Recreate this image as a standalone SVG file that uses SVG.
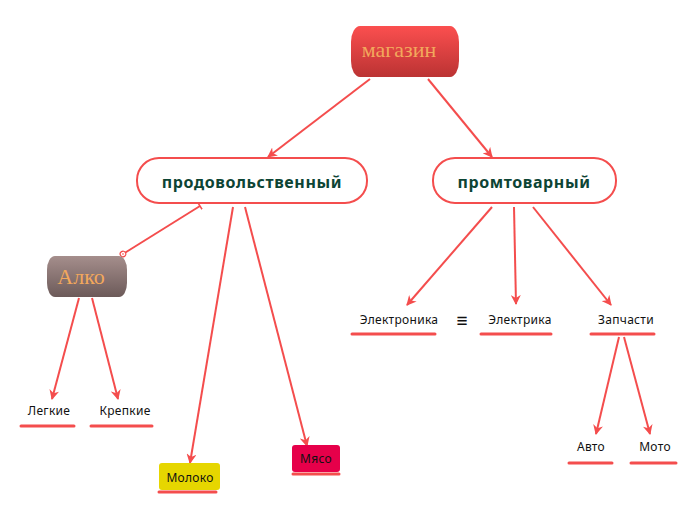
<svg xmlns="http://www.w3.org/2000/svg" width="696" height="520" viewBox="0 0 696 520">
<defs>
<linearGradient id="gRed" x1="0" y1="0" x2="0" y2="1"><stop offset="0" stop-color="#fb4f4f"/><stop offset="1" stop-color="#bb3333"/></linearGradient>
<linearGradient id="gBrown" x1="0" y1="0" x2="0" y2="1"><stop offset="0" stop-color="#a58e8c"/><stop offset="1" stop-color="#6c5a59"/></linearGradient>
<marker id="arr" viewBox="0 0 10 10" refX="9" refY="5" markerWidth="10" markerHeight="10" markerUnits="userSpaceOnUse" orient="auto"><path d="M0,0 L10,5 L0,10 L3,5 Z" fill="#f44d4d"/></marker>
<marker id="tee" viewBox="0 0 10 10" refX="5" refY="5" markerWidth="8" markerHeight="8" markerUnits="userSpaceOnUse" orient="auto"><path d="M5,0 L5,10" stroke="#f44d4d" stroke-width="2"/></marker>
<marker id="dot" viewBox="0 0 10 10" refX="5" refY="5" markerWidth="8" markerHeight="8" markerUnits="userSpaceOnUse" orient="auto"><circle cx="5" cy="5" r="3.5" fill="#fff" stroke="#f44d4d" stroke-width="1.6"/><circle cx="5" cy="5" r="1" fill="#f44d4d"/></marker>
</defs>
<style>
.c{stroke:#f44d4d;stroke-width:2;fill:none}
.a{marker-end:url(#arr)}
.pill{fill:#fff;stroke:#f44d4d;stroke-width:2}
.big{font-family:"Noto Sans","Open Sans",sans-serif;font-weight:bold;font-size:16px;letter-spacing:0.6px;fill:#0d4434;text-anchor:middle}
.ser{font-family:"Liberation Serif",serif;font-size:22px;fill:#f2a85c;text-anchor:middle}
.lbl{font-family:"Noto Sans","Open Sans",sans-serif;font-size:12px;letter-spacing:0.3px;fill:#111;text-anchor:middle}
.ul{stroke:#f44d4d;stroke-width:3;stroke-linecap:round}
</style>
<g id="connectors">
<line class="c a" x1="370" y1="79" x2="268" y2="157"/>
<line class="c a" x1="428" y1="79" x2="492" y2="157"/>
<line class="c" x1="200" y1="206" x2="123" y2="254" style="marker-start:url(#tee);marker-end:url(#dot)"/>
<line class="c a" x1="233" y1="207" x2="190" y2="463"/>
<line class="c a" x1="245" y1="207" x2="307" y2="446"/>
<line class="c a" x1="492" y1="207" x2="407" y2="305"/>
<line class="c a" x1="514" y1="207" x2="516" y2="304"/>
<line class="c a" x1="533" y1="207" x2="611" y2="305"/>
<line class="c a" x1="79" y1="298" x2="52" y2="399"/>
<line class="c a" x1="92" y1="298" x2="118" y2="399"/>
<line class="c a" x1="619" y1="337" x2="596" y2="434"/>
<line class="c a" x1="624" y1="337" x2="650" y2="434"/>
</g>
<g id="magazin">
<rect x="351" y="26" width="108" height="51" rx="9" ry="16" fill="url(#gRed)"/>
<text class="ser" x="399" y="57">магазин</text>
</g>
<g id="prodovolstvenny">
<rect class="pill" x="137" y="158" width="230" height="45" rx="22"/>
<text class="big" x="252" y="188">продовольственный</text>
</g>
<g id="promtovarny">
<rect class="pill" x="433" y="158" width="183" height="45" rx="22"/>
<text class="big" x="524" y="188">промтоварный</text>
</g>
<g id="alko">
<rect x="47" y="256" width="80" height="41" rx="8" ry="14" fill="url(#gBrown)"/>
<text class="ser" x="81" y="284">Алко</text>
</g>
<g id="elektronika">
<text class="lbl" x="399" y="324">Электроника</text>
<line class="ul" x1="352" y1="334" x2="435" y2="334"/>
</g>
<g id="equiv">
<text x="462" y="327" style="font-family:'Liberation Sans',sans-serif;font-size:19px;fill:#111;text-anchor:middle">≡</text>
</g>
<g id="elektrika">
<text class="lbl" x="520" y="324">Электрика</text>
<line class="ul" x1="481" y1="334" x2="551" y2="334"/>
</g>
<g id="zapchasti">
<text class="lbl" x="626" y="324">Запчасти</text>
<line class="ul" x1="591" y1="334" x2="654" y2="334"/>
</g>
<g id="legkie">
<text class="lbl" x="49" y="415">Легкие</text>
<line class="ul" x1="21" y1="426" x2="74" y2="426"/>
</g>
<g id="krepkie">
<text class="lbl" x="125" y="415">Крепкие</text>
<line class="ul" x1="91" y1="426" x2="152" y2="426"/>
</g>
<g id="moloko">
<rect x="159" y="463" width="61" height="27" rx="3" fill="#e6d600"/>
<text class="lbl" x="190" y="482">Молоко</text>
<line class="ul" x1="159" y1="492" x2="216" y2="492"/>
</g>
<g id="myaso">
<rect x="292" y="445" width="48" height="27" rx="3" fill="#e6004a"/>
<text class="lbl" x="316" y="463">Мясо</text>
<line class="ul" x1="293" y1="474" x2="339" y2="474"/>
</g>
<g id="avto">
<text class="lbl" x="591" y="451">Авто</text>
<line class="ul" x1="569" y1="463" x2="612" y2="463"/>
</g>
<g id="moto">
<text class="lbl" x="655" y="451">Мото</text>
<line class="ul" x1="631" y1="463" x2="676" y2="463"/>
</g>
</svg>
